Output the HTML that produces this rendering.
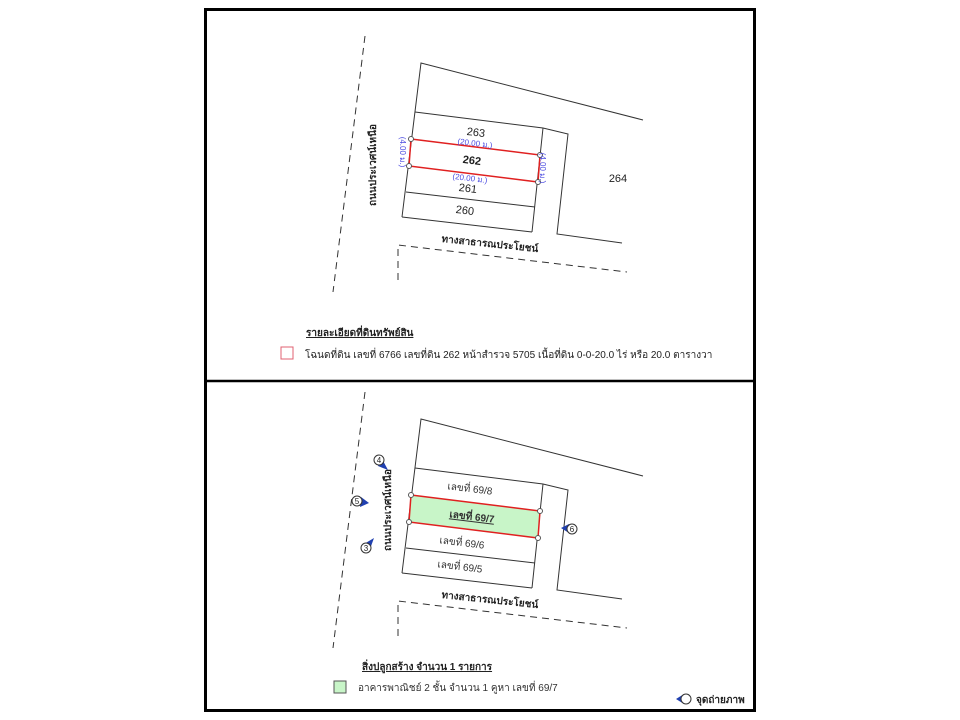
<!DOCTYPE html>
<html><head><meta charset="utf-8"><style>
html,body{margin:0;padding:0;background:#fff;}
svg{display:block;}
text{font-family:"Liberation Sans","Noto Sans CJK SC",sans-serif;}
</style></head><body>
<svg width="960" height="720" viewBox="0 0 960 720" xmlns="http://www.w3.org/2000/svg">
<rect x="0" y="0" width="960" height="720" fill="#fff"/>
<rect x="205.5" y="9.5" width="549" height="701" fill="none" stroke="#000" stroke-width="3"/>
<line x1="205" y1="381" x2="755" y2="381" stroke="#000" stroke-width="2.5"/>

<!-- TOP PLOT -->
<g stroke="#333" stroke-width="1" fill="none">
<line x1="365" y1="36" x2="333" y2="292" stroke-dasharray="7,5"/>
<polyline points="398,280 398,245 627,272" stroke-dasharray="7,5"/>
<polyline points="402,217 421,63 643,120"/>
<polyline points="415,112 543,128 568,134 557,234 622,243"/>
<line x1="543" y1="128" x2="532" y2="232"/>
<line x1="406" y1="192" x2="535" y2="207"/>
<line x1="402" y1="217" x2="532" y2="232"/>
</g>
<polygon points="411,139 540,155 538,182 409,166" fill="none" stroke="#e02020" stroke-width="1.5"/>
<g fill="#fff" stroke="#555" stroke-width="1">
<circle cx="411" cy="139" r="2.5"/><circle cx="540" cy="155" r="2.5"/><circle cx="538" cy="182" r="2.5"/><circle cx="409" cy="166" r="2.5"/>
</g>
<g font-size="11" fill="#222" text-anchor="middle">
<text x="476" y="136" transform="rotate(7 476 132)">263</text>
<text x="472" y="164" font-weight="bold" transform="rotate(7 472 160)">262</text>
<text x="468" y="192" transform="rotate(7 468 188)">261</text>
<text x="465" y="214" transform="rotate(7 465 210)">260</text>
<text x="618" y="182">264</text>
</g>
<g font-size="8" fill="#4a4ae0" text-anchor="middle">
<text x="475" y="146" transform="rotate(7 475 143)">(20.00 ม.)</text>
<text x="470" y="181" transform="rotate(7 470 178)">(20.00 ม.)</text>
<text x="403" y="155" transform="rotate(90 403 152)">(4.00 ม.)</text>
<text x="543" y="171" transform="rotate(90 543 168)">(4.00 ม.)</text>
</g>
<text x="375" y="172" font-size="10" font-weight="bold" fill="#222" text-anchor="middle" transform="rotate(-90 372 168)">ถนนประเวศน์เหนือ</text>
<text x="490" y="247" font-size="10" font-weight="bold" fill="#222" text-anchor="middle" transform="rotate(6 490 243)">ทางสาธารณประโยชน์</text>

<text x="306" y="336" font-size="10" font-weight="bold" fill="#222" text-decoration="underline">รายละเอียดที่ดินทรัพย์สิน</text>
<rect x="281" y="347" width="12" height="12" fill="#fff" stroke="#e06070" stroke-width="1"/>
<text x="305" y="358" font-size="10" fill="#222">โฉนดที่ดิน เลขที่ 6766  เลขที่ดิน 262  หน้าสำรวจ 5705  เนื้อที่ดิน  0-0-20.0 ไร่ หรือ 20.0 ตารางวา</text>

<!-- BOTTOM PLOT -->
<g transform="translate(0,356)">
<g stroke="#333" stroke-width="1" fill="none">
<line x1="365" y1="36" x2="333" y2="292" stroke-dasharray="7,5"/>
<polyline points="398,280 398,245 627,272" stroke-dasharray="7,5"/>
<polyline points="402,217 421,63 643,120"/>
<polyline points="415,112 543,128 568,134 557,234 622,243"/>
<line x1="543" y1="128" x2="532" y2="232"/>
<line x1="406" y1="192" x2="535" y2="207"/>
<line x1="402" y1="217" x2="532" y2="232"/>
</g>
<polygon points="411,139 540,155 538,182 409,166" fill="#c8f5c8" stroke="#e02020" stroke-width="1.5"/>
<g fill="#fff" stroke="#555" stroke-width="1">
<circle cx="411" cy="139" r="2.5"/><circle cx="540" cy="155" r="2.5"/><circle cx="538" cy="182" r="2.5"/><circle cx="409" cy="166" r="2.5"/>
</g>
<g font-size="10" fill="#333" text-anchor="middle">
<text x="470" y="136" transform="rotate(7 470 132)">เลขที่ 69/8</text>
<text x="472" y="164" font-weight="bold" text-decoration="underline" transform="rotate(7 472 160)">เลขที่ 69/7</text>
<text x="462" y="190" transform="rotate(7 462 186)">เลขที่ 69/6</text>
<text x="460" y="214" transform="rotate(7 460 210)">เลขที่ 69/5</text>
</g>
<text x="490" y="247" font-size="10" font-weight="bold" fill="#222" text-anchor="middle" transform="rotate(6 490 243)">ทางสาธารณประโยชน์</text>
</g>
<text x="390" y="517" font-size="10" font-weight="bold" fill="#222" text-anchor="middle" transform="rotate(-90 387 513)">ถนนประเวศน์เหนือ</text>

<g font-size="8" fill="#222" text-anchor="middle">
<polygon points="381,457 388,470 378,466" fill="#2040b0"/>
<circle cx="379" cy="460" r="5" fill="#fff" stroke="#333"/><text x="379" y="463">4</text>
<polygon points="361,497 369,503 360,507" fill="#2040b0"/>
<circle cx="357" cy="501" r="5" fill="#fff" stroke="#333"/><text x="357" y="504">5</text>
<polygon points="364,544 374,538 370,549" fill="#2040b0"/>
<circle cx="366" cy="548" r="5" fill="#fff" stroke="#333"/><text x="366" y="551">3</text>
<polygon points="569,524 561,528 569,533" fill="#2040b0"/>
<circle cx="572" cy="529" r="5" fill="#fff" stroke="#333"/><text x="572" y="532">6</text>
</g>

<text x="362" y="670" font-size="10" font-weight="bold" fill="#222" text-decoration="underline">สิ่งปลูกสร้าง จำนวน 1 รายการ</text>
<rect x="334" y="681" width="12" height="12" fill="#c8f5c8" stroke="#555" stroke-width="1"/>
<text x="358" y="691" font-size="10" fill="#333">อาคารพาณิชย์ 2 ชั้น จำนวน 1 คูหา เลขที่ 69/7</text>
<polygon points="676,699 684,694 684,704" fill="#2040b0"/>
<circle cx="686" cy="699" r="5" fill="#fff" stroke="#333"/>
<text x="696" y="703" font-size="10" font-weight="bold" fill="#222">จุดถ่ายภาพ</text>
</svg>
</body></html>
